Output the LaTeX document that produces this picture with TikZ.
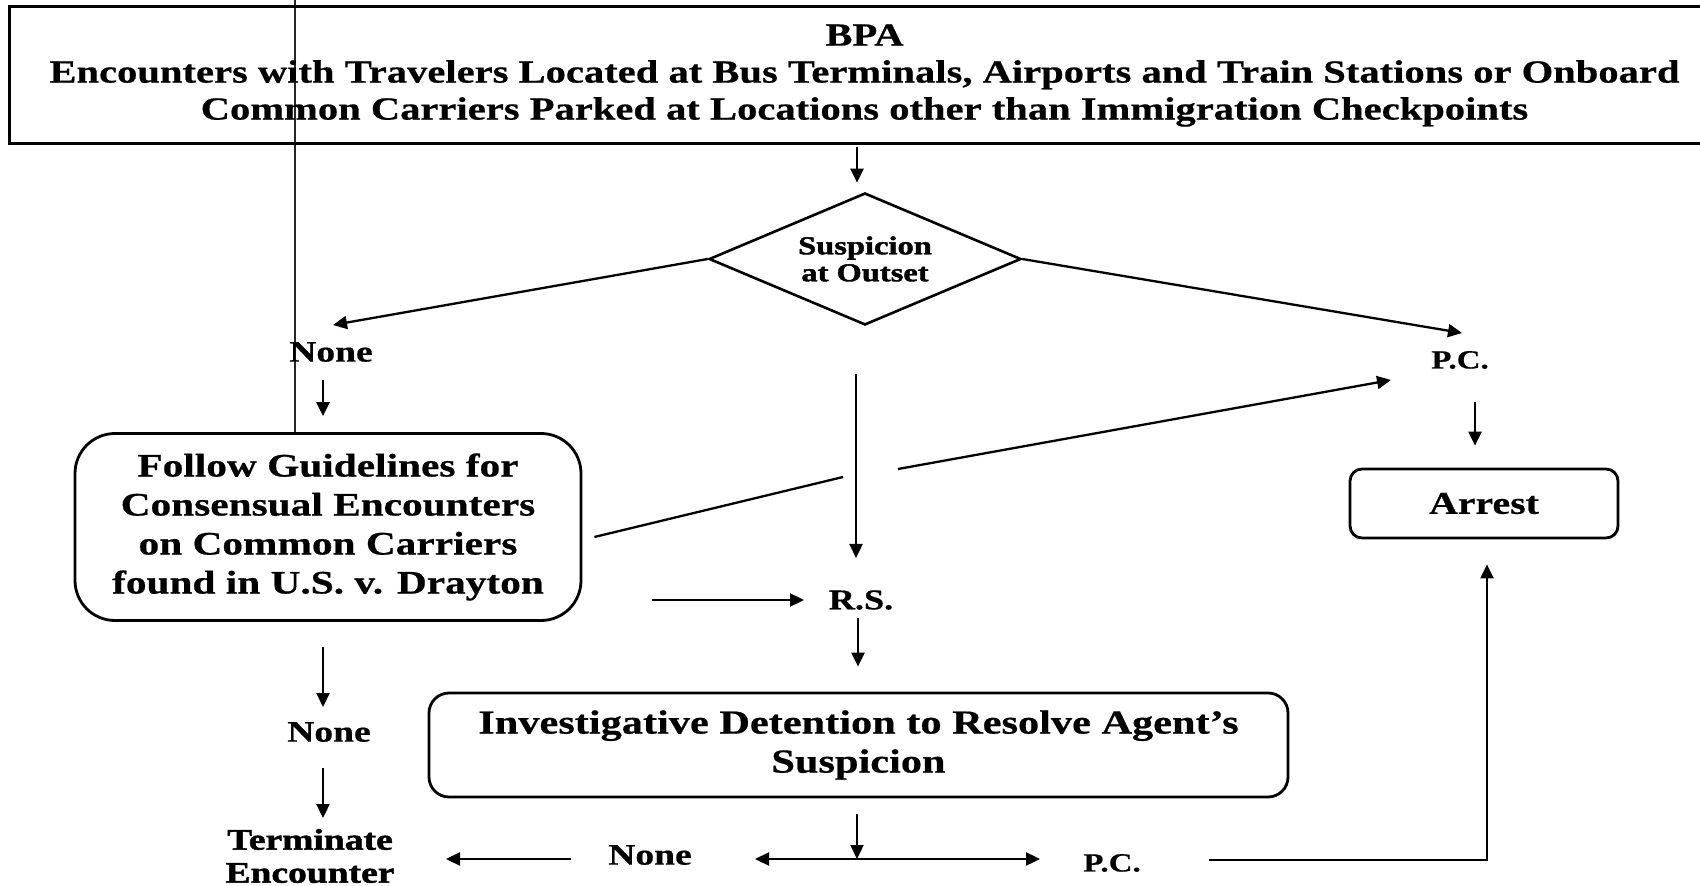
\documentclass[tikz,border=0pt]{standalone}
\usepackage{fontspec}
\setmainfont{Liberation Serif}[FakeStretch=1.26, BoldFeatures={FakeBold=0.6}]
\newfontfamily\heavyfont{Liberation Serif}[FakeStretch=1.26, BoldFeatures={FakeBold=1.6}]
\usetikzlibrary{arrows.meta,shapes.geometric,calc}
\newcommand\myfs[2]{\fontsize{#1}{#2}\selectfont\bfseries}
\begin{document}
\begin{tikzpicture}[x=0.5pt,y=-0.5pt,
  lbl/.style={inner sep=0pt, align=center},
  sqbox/.style={draw, line width=1.5pt, inner sep=0pt, align=center},
  rbox/.style={draw, line width=1.4pt, inner sep=0pt, align=center},
  arr/.style={-{Triangle[length=7pt,width=6.5pt]}, line width=1.15pt},
  ln/.style={line width=1.15pt}]
\useasboundingbox (0,0) rectangle (1700,886);
% scan artefact
\draw[line width=0.6pt, black!85] (295,0) -- (295,432);
% nodes
\node[sqbox, minimum width=855.5pt, minimum height=68.5pt, font=\myfs{16.1}{18.5}] (top) at (864.5,75.5)
  {BPA\\Encounters with Travelers Located at Bus Terminals, Airports and Train Stations or Onboard\\Common Carriers Parked at Locations other than Immigration Checkpoints};
\node[diamond, draw, line width=1.3pt, aspect=2.36, minimum width=156pt, minimum height=66pt, inner sep=0pt, align=center, font=\heavyfont\myfs{12.9}{13.5}] (dia) at (865,259) {Suspicion\\at Outset};
\node[lbl, font=\myfs{14.9}{16}] (none1) at (331,352) {None};
\node[lbl, font=\myfs{13.1}{14}] (pc1) at (1460,360) {P.C.};
\node[rbox, rounded corners=6pt, minimum width=134pt, minimum height=34.5pt, font=\myfs{15.8}{17}] (arrest) at (1484,503.5) {Arrest};
\node[rbox, rounded corners=20pt, minimum width=253pt, minimum height=93.5pt, font=\myfs{16.4}{19.5}] (follow) at (328,527)
  {Follow Guidelines for\\Consensual Encounters\\on Common Carriers\\found in U.S. v. Drayton};
\node[lbl, font=\myfs{14.4}{16}] (rs) at (861,600) {R.S.};
\node[rbox, rounded corners=10pt, minimum width=429.5pt, minimum height=52pt, font=\myfs{16.8}{19.5}] (inv) at (858.5,745)
  {Investigative Detention to Resolve Agent’s\\Suspicion};
\node[lbl, font=\myfs{14.9}{16}] (none2) at (329,732) {None};
\node[lbl, font=\heavyfont\myfs{14.9}{16.5}] (term) at (310,856) {Terminate\\Encounter};
\node[lbl, font=\myfs{14.9}{16}] (none3) at (650,855) {None};
\node[lbl, font=\myfs{13.1}{14}] (pc3) at (1112,863) {P.C.};
\coordinate (g1) at (843,477);
\coordinate (g2) at (898,469);
\coordinate (jn) at (857,859);
% connectors
\draw[arr] ($(top.south -| dia.north)+(-8,2)$) -- ($(dia.north)+(-8,-9)$);
\draw[arr] (dia.west) -- ($(none1.center)+(2,-27)$);
\draw[arr] (dia.east) -- ($(pc1.center)+(2,-27)$);
\draw[arr] ($(none1.center)+(-8,28)$) -- ($(follow.north)+(-5,-16)$);
\draw[arr] ($(pc1.center)+(15,42)$) -- ($(arrest.north)+(-9,-22)$);
\draw[arr] ($(dia.south)+(-9,48)$) -- ($(rs.center)+(-5,-42)$);
\draw[ln] ($(follow.east)+(12,10)$) -- (g1);
\draw[arr] (g2) -- ($(pc1.center)+(-69,20)$);
\draw[arr] ($(follow.east)+(70,73)$) -- ($(rs.center)+(-57,0)$);
\draw[arr] ($(rs.center)+(-3,18)$) -- ($(inv.north)+(-0.5,-25)$);
\draw[arr] ($(follow.south)+(-5,25)$) -- ($(none2.center)+(-6,-25)$);
\draw[arr] ($(none2.center)+(-6,36)$) -- ($(term.center)+(13,-38)$);
\draw[arr] ($(inv.south)+(-1.5,16)$) -- (jn);
\draw[arr] (jn) -- ($(none3.center)+(105,4)$);
\draw[arr] (jn) -- ($(pc3.center)+(-72,-4)$);
\draw[arr] ($(none3.center)+(-79,4)$) -- ($(term.center)+(136,3)$);
\draw[arr] ($(pc3.center)+(97,-3)$) -| ($(arrest.south)+(3,25)$);
\end{tikzpicture}
\end{document}
